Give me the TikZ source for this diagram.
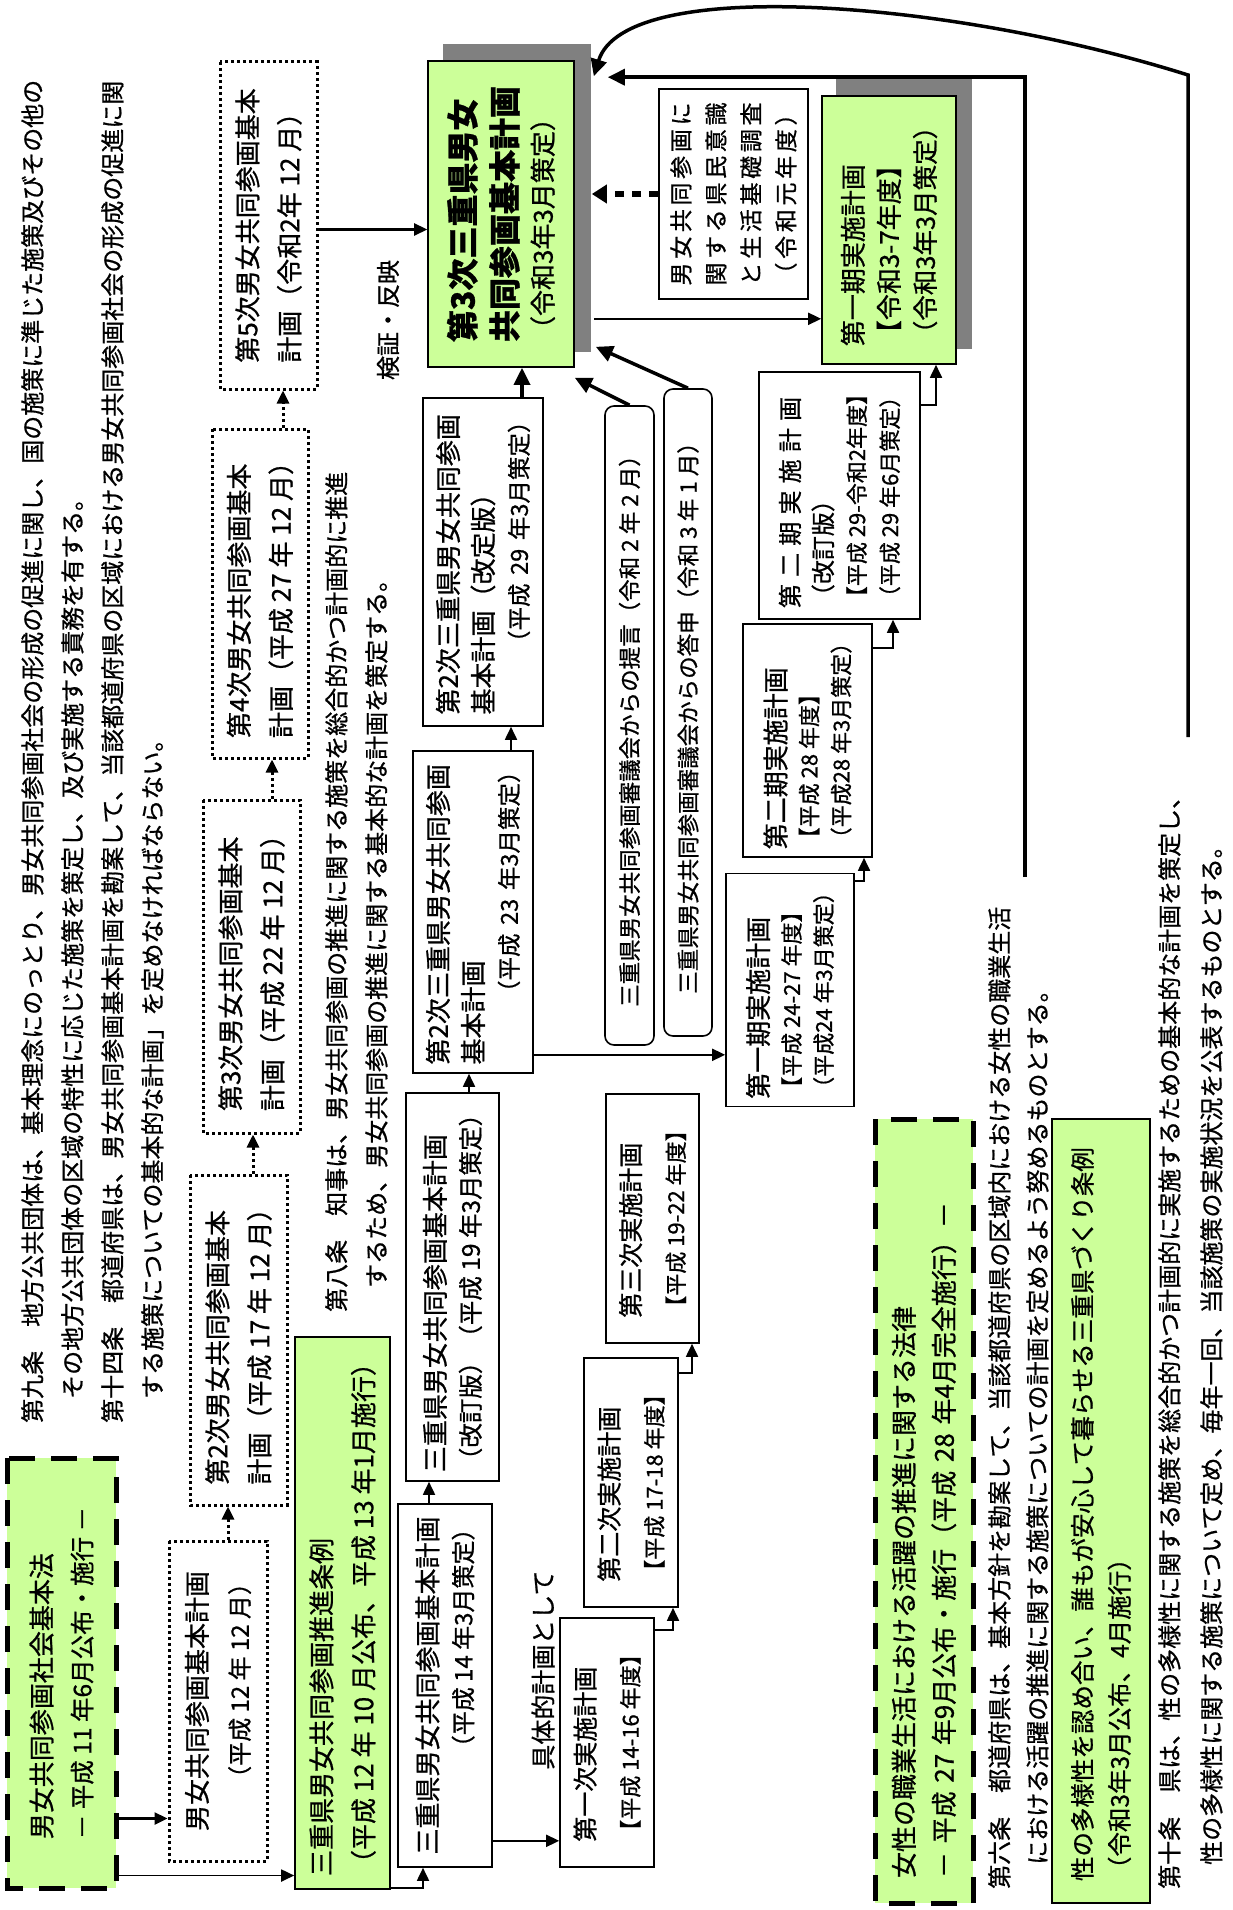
\documentclass[tikz,border=0pt]{standalone}
\usepackage{fontspec}
\setmainfont{Noto Sans CJK JP}[FakeBold=0.8, RawFeature={-chws}]
\usetikzlibrary{arrows.meta,backgrounds}
\definecolor{keygreen}{HTML}{CCFF99}
\definecolor{shadowgray}{HTML}{808080}
\newcommand{\fsize}[1]{\fontsize{#1}{#1}\selectfont}

\begin{document}
\begin{tikzpicture}[
    x=1pt, y=-1pt,
    font=\fontsize{24}{40}\selectfont,
    every node/.style={rotate=90, align=left},
    plan/.style={draw, line width=1.6pt, fill=white,
                 font=\fontsize{26}{35}\selectfont},
    natl/.style={draw, line width=3pt, dash pattern=on 3pt off 3pt, fill=white,
                 font=\fontsize{26}{42}\selectfont},
    lawbox/.style={draw, line width=5pt, dash pattern=on 26pt off 16pt, fill=keygreen},
    keybox/.style={draw, line width=1.6pt, fill=keygreen},
    council/.style={draw, line width=1.6pt, rounded corners=9pt, fill=white,
                    font=\fontsize{22.5}{28}\selectfont},
    article/.style={inner sep=0pt, anchor=north west},
    flow/.style={-{Triangle[length=13pt, width=12pt]}, line width=1.8pt},
    heavy/.style={-{Triangle[length=17pt, width=16pt]}, line width=3.5pt},
    dots/.style={flow, line width=3pt, dash pattern=on 3pt off 3pt},
  ]

  \useasboundingbox (0,0) rectangle (1232,1910);

  % Article texts
  \node[article] (art9) at (21,1423)
    {第九条　地方公共団体は、基本理念にのっとり、男女共同参画社会の形成の促進に関し、国の施策に準じた施策及びその他の\\
     　その地方公共団体の区域の特性に応じた施策を策定し、及び実施する責務を有する。\\
     第十四条　都道府県は、男女共同参画基本計画を勘案して、当該都道府県の区域における男女共同参画社会の形成の促進に関\\
     　する施策についての基本的な計画」を定めなければならない。};
  \node[article] (art8) at (325,1312)
    {第八条　知事は、男女共同参画の推進に関する施策を総合的かつ計画的に推進\\
     　するため、男女共同参画の推進に関する基本的な計画を策定する。};
  \node[article, font=\fontsize{24}{38}\selectfont] (art6) at (988,1889)
    {第六条　都道府県は、基本方針を勘案して、当該都道府県の区域内における女性の職業生活\\
     　における活躍の推進に関する施策についての計画を定めるよう努めるものとする。};
  \node[article, font=\fontsize{24}{42}\selectfont] (art10) at (1158,1889)
    {第十条　県は、性の多様性に関する施策を総合的かつ計画的に実施するための基本的な計画を策定し、\\
     　性の多様性に関する施策について定め、毎年一回、当該施策の実施状況を公表するものとする。};

  % National law and basic plans
  \node[lawbox, minimum width=430pt, minimum height=109pt, font=\fontsize{26}{40}\selectfont]
    (kihonho) at (61.5,1673) {男女共同参画社会基本法\\{\fsize{24.5}－ 平成 11 年6月公布・施行 －}};
  \node[natl, align=right, minimum width=320pt, minimum height=98pt]
    (plan1) at (218,1701) {男女共同参画基本計画\\{\fsize{24}（平成 12 年 12 月）}};
  \node[natl, minimum width=330pt, minimum height=97pt]
    (plan2) at (238.5,1340) {第2次男女共同参画基本\\計画（平成 17 年 12 月）};
  \node[natl, minimum width=333pt, minimum height=97pt]
    (plan3) at (251.5,966.5) {第3次男女共同参画基本\\計画（平成 22 年 12 月）};
  \node[natl, minimum width=329pt, minimum height=96pt]
    (plan4) at (260,593.5) {第4次男女共同参画基本\\計画（平成 27 年 12 月）};
  \node[natl, minimum width=327pt, minimum height=97pt]
    (plan5) at (268.5,225.5) {第5次男女共同参画基本\\計画（令和2年 12 月）};

  % Mie ordinance and basic plans
  \node[keybox, minimum width=552pt, minimum height=95pt, font=\fontsize{26}{42}\selectfont]
    (jourei) at (342.5,1613) {三重県男女共同参画推進条例\\（平成 12 年 10 月公布、平成 13 年1月施行）};
  \node[plan, align=right, minimum width=363pt, minimum height=94pt]
    (mie1) at (445,1685.5) {三重県男女共同参画基本計画\\{\fsize{24}（平成 14 年3月策定）}};
  \node[plan, minimum width=388pt, minimum height=93pt]
    (mie2) at (452.5,1287) {三重県男女共同参画基本計画\\{\fsize{24.5}（改訂版）（平成 19 年3月策定）}};
  \node[plan, text width=305pt, minimum width=322pt, minimum height=120pt]
    (mie3) at (473,912) {第2次三重県男女共同参画\\基本計画\\\hspace*{\fill}{\fsize{23.5}（平成 23 年3月策定）}};
  \node[plan, text width=305pt, minimum width=328pt, minimum height=120pt]
    (mie4) at (483,562) {第2次三重県男女共同参画\\基本計画（改定版）\\\hspace*{\fill}{\fsize{23.5}（平成 29 年3月策定）}};
  \node[keybox, minimum width=306pt, minimum height=146pt, font=\fontsize{32}{42}\bfseries]
    (mie5) at (501,214) {第3次三重県男女\\共同参画基本計画\\[-6pt]{\mdseries\fsize{26}（令和3年3月策定）}};

  % Survey and council reports
  \node[plan, minimum width=210pt, minimum height=149pt,
        font=\fontsize{23}{35}\selectfont\addfontfeatures{LetterSpace=16}]
    (survey) at (733.5,194) {男女共同参画に\\関する県民意識\\と生活基礎調査\\（令和元年度）};
  \node[council, minimum width=639pt, minimum height=49pt]
    (teigen) at (629.5,725.5) {三重県男女共同参画審議会からの提言（令和 2 年 2 月）};
  \node[council, minimum width=647pt, minimum height=48pt]
    (toushin) at (688,712.5) {三重県男女共同参画審議会からの答申（令和 3 年 1 月）};

  % Implementation plans
  \node[plan, font=\fontsize{25}{44}\selectfont, minimum width=249pt, minimum height=94pt]
    (jisshi1) at (607,1742.5) {第一次実施計画\\{\fsize{22}【平成 14-16 年度】}};
  \node[plan, font=\fontsize{25}{44}\selectfont, minimum width=249pt, minimum height=94pt]
    (jisshi2) at (631,1482.5) {第二次実施計画\\{\fsize{22}【平成 17-18 年度】}};
  \node[plan, font=\fontsize{25}{44}\selectfont, minimum width=249pt, minimum height=93pt]
    (jisshi3) at (652.5,1218.5) {第三次実施計画\\{\fsize{22}【平成 19-22 年度】}};
  \node[plan, font=\fontsize{26}{32}\selectfont, minimum width=233pt, minimum height=128pt]
    (ki1) at (790,990) {第一期実施計画\\{\fsize{22}【平成 24-27 年度】}\\{\fsize{22}（平成24 年3月策定）}};
  \node[plan, font=\fontsize{26}{32}\selectfont, minimum width=233pt, minimum height=129pt]
    (ki2) at (807.5,740.5) {第二期実施計画\\{\fsize{22}【平成 28 年度】}\\{\fsize{22}（平成28 年3月策定）}};
  \node[plan, font=\fontsize{24}{33}\selectfont, minimum width=247pt, minimum height=161pt]
    (ki3) at (839.5,495.5) {{\addfontfeatures{LetterSpace=30}第二期実施計画}\\（改訂版）\\{\fsize{22}【平成 29-令和2年度】}\\{\fsize{22}（平成 29 年6月策定）}};
  \node[keybox, font=\fontsize{26}{36}\selectfont, minimum width=268pt, minimum height=134pt]
    (ki4) at (889,230) {第一期実施計画\\【令和3-7年度】\\{\fsize{25.5}（令和3年3月策定）}};

  % Women's activity law and diversity ordinance
  \node[lawbox, text width=734pt, minimum width=784pt, minimum height=98pt, font=\fontsize{26}{40}\selectfont]
    (josei) at (924,1511) {女性の職業生活における活躍の推進に関する法律\\－ 平成 27 年9月公布・施行（平成 28 年4月完全施行）－};
  \node[keybox, text width=740pt, minimum width=784pt, minimum height=98pt, font=\fontsize{24.5}{37}\selectfont]
    (tayousei) at (1101,1511) {性の多様性を認め合い、誰もが安心して暮らせる三重県づくり条例\\（令和3年3月公布、4月施行）};

  % Labels
  \node (kensho) at (388,320) {検証・反映};
  \node[font=\fontsize{25}{25}\selectfont] (gutai) at (543,1670) {具体的計画として};

  % Shadows behind the green plans
  \begin{scope}[on background layer]
    \fill[shadowgray] ([xshift=16pt,yshift=16pt]mie5.north east) rectangle ([xshift=16pt,yshift=16pt]mie5.south west);
    \fill[shadowgray] ([xshift=15pt,yshift=16pt]ki4.north east) rectangle ([xshift=15pt,yshift=16pt]ki4.south west);
  \end{scope}

  % National chain
  \draw[flow, line width=2.6pt] ([yshift=72pt]kihonho.south west) coordinate (a1) -- (a1 -| plan1.north);
  \draw[flow] ([yshift=15pt]kihonho.south west) coordinate (a2) -- (a2 -| jourei.north);
  \draw[dots] ([xshift=10pt]plan1.east) coordinate (a3) -- (a3 |- plan2.west);
  \draw[dots] ([xshift=14.5pt]plan2.east) coordinate (a4) -- (a4 |- plan3.west);
  \draw[dots] ([xshift=20.5pt]plan3.east) coordinate (a5) -- (a5 |- plan4.west);
  \draw[dots] ([xshift=23pt]plan4.east) coordinate (a6) -- (a6 |- plan5.west);
  \draw[flow, line width=2.6pt] ([yshift=-4pt]plan5.south) coordinate (a7) -- (a7 -| mie5.north);

  % Mie basic plan chain
  \draw[flow] ([yshift=2pt]jourei.south west) -| ([xshift=-22pt]mie1.west);
  \draw[flow] ([xshift=-16pt]mie1.east) coordinate (b1) -- (b1 |- mie2.west);
  \draw[flow] ([xshift=16.5pt]mie2.east) coordinate (b2) -- (b2 |- mie3.west);
  \draw[flow] ([xshift=38pt]mie3.east) coordinate (b3) -- (b3 |- mie4.west);
  \draw[heavy] ([xshift=39pt]mie4.east) coordinate (b4) -- (b4 |- mie5.west);

  % Implementation plan chains
  \draw[flow] ([yshift=27pt]mie1.south west) coordinate (c1) -- (c1 -| jisshi1.north);
  \draw[flow] ([yshift=-13pt]jisshi1.south east) -| ([xshift=42pt]jisshi2.west);
  \draw[flow] ([yshift=-16pt]jisshi2.south east) -| ([xshift=39.5pt]jisshi3.west);
  \draw[flow] ([yshift=19pt]mie3.south west) coordinate (c2) -- (c2 -| ki1.north);
  \draw[flow] ([yshift=-8pt]ki1.south east) -| ([xshift=56.5pt]ki2.west);
  \draw[flow] ([yshift=-25pt]ki2.south east) -| ([xshift=53.5pt]ki3.west);
  \draw[flow] ([yshift=-34pt]ki3.south east) -| ([xshift=47pt]ki4.west);
  \draw[flow] ([xshift=19pt,yshift=49pt]mie5.south west) coordinate (c3) -- (c3 -| ki4.north);

  % Inputs to the 3rd plan
  \draw[-{Triangle[length=15pt, width=18pt]}, line width=6pt, dash pattern=on 9pt off 8pt, shorten >=17pt]
    (survey.north) -- (survey.north -| mie5.south);
  \draw[heavy] (teigen.east) -- ([yshift=-10pt]mie5.south west);
  \draw[heavy] (toushin.east) -- ([xshift=21pt,yshift=21pt]mie5.south west);

  % Feedback from the law articles
  \coordinate (jo6) at (1025,877);
  \coordinate (jo10) at (1188,737);
  \draw[heavy] (jo6) |- ([xshift=33pt,yshift=-17pt]mie5.south east);
  \draw[heavy] (jo10) -- ++(0,-662) .. controls (950,0) and (625,-25) .. ([xshift=19pt,yshift=-16pt]mie5.south east);

\end{tikzpicture}
\end{document}
